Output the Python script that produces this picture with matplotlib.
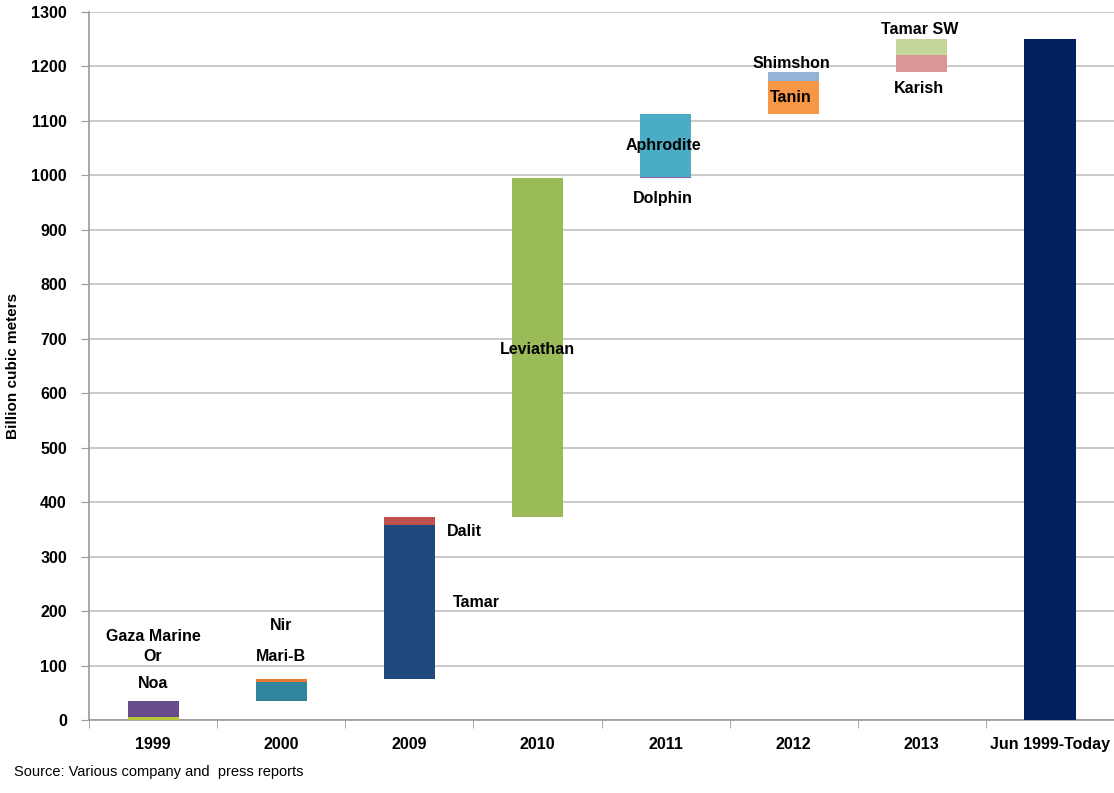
import matplotlib.pyplot as plt

plt.rcParams['font.family'] = ['Liberation Sans Narrow', 'Liberation Sans', 'DejaVu Sans']

categories = ['1999', '2000', '2009', '2010', '2011', '2012', '2013', 'Jun 1999-Today']

# waterfall segments: category index, field, bottom, top (bcm)
seg_cat = [0, 0, 1, 1, 2, 2, 3, 4, 4, 5, 5, 6, 6, 7]
seg_name = ['Noa', 'Gaza Marine', 'Mari-B', 'Nir', 'Tamar', 'Dalit', 'Leviathan',
            'Dolphin', 'Aphrodite', 'Tanin', 'Shimshon', 'Karish', 'Tamar SW', 'Total']
seg_bottom = [0, 5, 35, 70, 75, 358, 373, 995, 997, 1113, 1173, 1189, 1221, 0]
seg_top = [5, 35, 70, 76, 358, 373, 995, 997, 1113, 1173, 1189, 1221, 1251, 1251]
seg_color = ['#b8c83a', '#674e8a', '#31859c', '#e67a30', '#1f497d', '#c0504d', '#9bbb59',
             '#8064a2', '#4bacc6', '#f79646', '#95b3d7', '#d99694', '#c3d69b', '#002060']

# text labels: category offset, value, name
lab_x = [0, 0, 0, 1, 1, 2.43, 2.52, 3, 3.98, 3.98, 4.98, 4.98, 5.98, 5.98]
lab_y = [154, 116, 68, 173, 116, 347, 215, 681, 1054, 958, 1205, 1142, 1267, 1159]
lab_text = ['Gaza Marine', 'Or', 'Noa', 'Nir', 'Mari-B', 'Dalit', 'Tamar', 'Leviathan',
            'Aphrodite', 'Dolphin', 'Shimshon', 'Tanin', 'Tamar SW', 'Karish']

fig = plt.figure(figsize=(11.14, 7.93), dpi=100)
ax = fig.add_axes([0.08, 0.092, 0.92, 0.893])

for c, b, t, col in zip(seg_cat, seg_bottom, seg_top, seg_color):
    ax.bar(c, t - b, bottom=b, width=0.4, color=col, zorder=3)

for x, y, s in zip(lab_x, lab_y, lab_text):
    ax.text(x, y, s, ha='center', va='center', fontsize=11.5, fontweight='bold', zorder=4)

ax.set_xlim(-0.5, len(categories) - 0.5)
ax.set_ylim(0, 1300)
ax.set_yticks(range(0, 1301, 100))
ax.set_yticklabels([str(v) for v in range(0, 1301, 100)], fontsize=11.5, fontweight='bold')
ax.set_xticks(range(len(categories)))
ax.set_xticklabels(categories, fontsize=11.5, fontweight='bold')
ax.tick_params(axis='x', length=0, pad=12)
ax.set_xticks([i - 0.5 for i in range(len(categories) + 1)], minor=True)
ax.tick_params(axis='x', which='minor', length=6, color='#999999')
ax.tick_params(axis='y', length=6, color='#999999', pad=10)
ax.grid(axis='y', color='#c0c0c0', linewidth=1.2, zorder=0)
for sp in ['top', 'right']:
    ax.spines[sp].set_visible(False)
for sp in ['left', 'bottom']:
    ax.spines[sp].set_color('#999999')
    ax.spines[sp].set_linewidth(1.2)

ax.set_ylabel('Billion cubic meters', fontsize=11, fontweight='bold', labelpad=8)
fig.text(0.013, 0.022, 'Source: Various company and  press reports', fontsize=10.5)

fig.savefig('out.png', dpi=100)
